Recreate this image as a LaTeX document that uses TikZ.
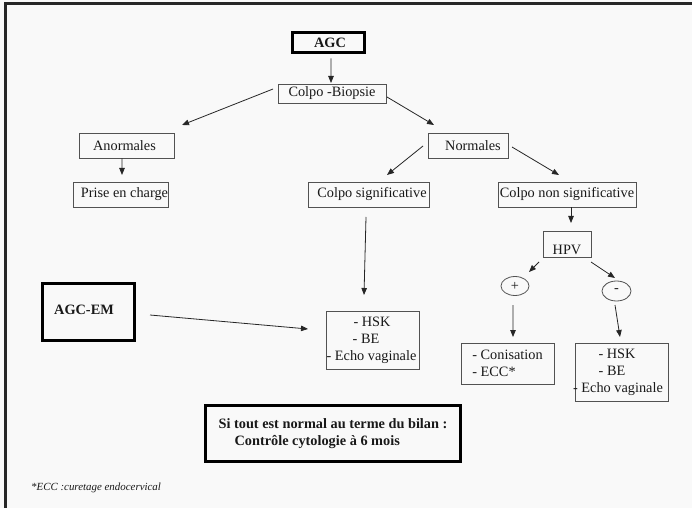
\documentclass[tikz,border=0pt]{standalone}
\usepackage{fontspec}
\setmainfont{Liberation Serif}
\usetikzlibrary{arrows.meta,calc,shapes.geometric}
\newcommand{\tx}[2]{\makebox[0pt]{\hspace{#1}#2}}
\begin{document}
\begin{tikzpicture}[x=1bp,y=-1bp,
  every node/.style={font=\fontsize{14.3bp}{17bp}\selectfont, text=black!90, inner sep=0},
  box/.style={draw=black!68, line width=0.8bp, rectangle, inner sep=0},
  heavybox/.style={draw=black, line width=3bp, rectangle, inner sep=0, font=\fontsize{14.3bp}{17bp}\selectfont\bfseries},
  oval/.style={draw=black!68, line width=0.8bp, ellipse, inner sep=0},
  arr/.style={draw=black!85, line width=0.8bp, -{Triangle[length=7bp,width=5.5bp]}},
]
\fill[gray!5] (0,0) rectangle (692,508);
\useasboundingbox (0,0) rectangle (692,508);
\draw[line width=3bp, black!85] (5,508) -- (5,3.5) -- (692,3.5);

\node[heavybox, minimum width=72bp, minimum height=20bp] (agc) at (328.5,42.5) {\tx{3bp}{AGC}};
\node[box, minimum width=108bp, minimum height=19bp] (colpo) at (332,93.5) {\tx{0bp}{Colpo -Biopsie}};
\node[box, minimum width=95bp, minimum height=25bp] (anorm) at (126.5,145.5) {\tx{-4bp}{Anormales}};
\node[box, minimum width=95bp, minimum height=25bp] (prise) at (120.5,194.5) {\tx{8bp}{Prise en charge}};
\node[box, minimum width=80bp, minimum height=25bp] (norm) at (468,145.5) {\tx{10bp}{Normales}};
\node[box, minimum width=121bp, minimum height=25bp] (csig) at (368.5,194.5) {\tx{7bp}{Colpo significative}};
\node[box, minimum width=138bp, minimum height=25bp] (cnon) at (567,194.5) {\tx{0bp}{Colpo non significative}};
\node[box, minimum width=48bp, minimum height=26bp] (hpv) at (567,244) {\smash{\raisebox{-10.5bp}{\tx{0bp}{HPV}}}};
\node[oval, minimum width=28bp, minimum height=19bp] (plus) at (515,286) {\tx{0bp}{+}};
\node[oval, minimum width=29bp, minimum height=20bp] (minus) at (616.5,291) {\tx{0bp}{-}};
\node[box, minimum width=93bp, minimum height=58bp, align=center] (hsk1) at (372.5,340)
  {\tx{-1bp}{- HSK}\\ \tx{-13bp}{- BE}\\ \tx{-2bp}{- Echo vaginale}};
\node[box, minimum width=93bp, minimum height=41bp, align=left] (con) at (507.5,363.5)
  {- Conisation\\ - ECC*};
\node[box, minimum width=93bp, minimum height=58bp, align=center] (hsk2) at (621.5,372)
  {\tx{-9bp}{- HSK}\\ \tx{-19bp}{- BE}\\ \tx{-7bp}{- Echo vaginale}};
\node[heavybox, minimum width=92bp, minimum height=57bp] (agcem) at (88.5,312) {\smash{\raisebox{-2bp}{\tx{-9bp}{AGC-EM}}}};
\node[heavybox, minimum width=255bp, minimum height=56bp, align=left] (sitout) at (333,433.5)
  {Si tout est normal au terme du bilan :\\ \hspace*{16bp}Contrôle cytologie à 6 mois};
\node[anchor=west, font=\fontsize{10.9bp}{13bp}\selectfont\itshape] (foot) at (31,488) {*ECC :curetage endocervical};

\draw[arr] ($(agc.south)+(2.5,4.5)$) -- ($(colpo.north)+(-1,-0.6)$);
\draw[arr] ($(colpo.west)+(-4.6,-4.5)$) -- ($(anorm.north east)+(7.6,-7.6)$);
\draw[arr] ($(colpo.east)+(0.6,3.5)$) -- ($(norm.north west)+(6.4,-7.6)$);
\draw[arr] ($(anorm.south)+(-4.5,0)$) -- ($(prise.north)+(1.5,-6.6)$);
\draw[arr] ($(norm.west)+(-4.6,0.5)$) -- ($(csig.north)+(18.5,-6.6)$);
\draw[arr] ($(norm.east)+(3.6,1.5)$) -- ($(cnon.north)+(-8,-6.6)$);
\draw[arr] ($(cnon.south)+(4,0)$) -- ($(hpv.north)+(4,-7.6)$);
\draw[arr] ($(csig.south)+(-2.5,9.6)$) -- ($(hsk1.north)+(-8.5,-15.6)$);
\draw[arr] ($(hpv.south west)+(-3.6,4.6)$) -- ($(plus.center)+(14,-14)$);
\draw[arr] ($(hpv.south east)+(-0.4,4.6)$) -- ($(minus.north)+(-1.5,-2.6)$);
\draw[arr] ($(plus.south)+(-2,9.1)$) -- ($(con.north)+(5.5,-5.6)$);
\draw[arr] ($(minus.south)+(-1.5,3.6)$) -- ($(hsk2.north)+(-1.5,-5.6)$);
\draw[arr] ($(agcem.east)+(14,3)$) -- ($(hsk1.west)+(-17.6,-11)$);
\end{tikzpicture}
\end{document}
